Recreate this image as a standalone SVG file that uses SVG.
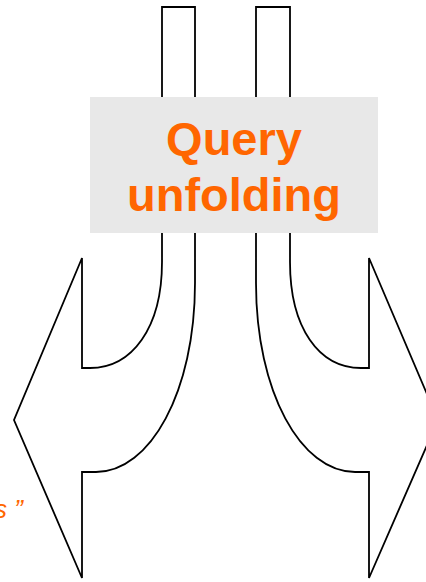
<svg xmlns="http://www.w3.org/2000/svg" width="426" height="582" viewBox="0 0 426 582">
<style>
.arrow{fill:#fff;stroke:#000;stroke-width:1.8;stroke-linejoin:miter}
.lbl{font-family:"Liberation Sans",Arial,sans-serif;fill:#FF6600}
</style>
<rect width="426" height="582" fill="#fff"/>
<g id="connectors">
<path id="arrow-left" class="arrow" d="M162,7 H195 V283 C195,392 150,472 96,472 H82 V578 L14,420 L82,258 V368 H90 C132,368 162,328 162,262 Z"/>
<path id="arrow-right" class="arrow" d="M290,7 H256 V283 C256,392 301,472 355,472 H369 V578 L438,420 L369,258 V368 H361 C319,368 290,328 290,262 Z"/>
</g>
<g id="node-query">
<rect x="90" y="97" width="288" height="136" fill="#E8E8E8"/>
<text class="lbl" x="234" y="155" font-size="47" font-weight="bold" text-anchor="middle">Query</text>
<text class="lbl" x="234" y="211" font-size="47" font-weight="bold" text-anchor="middle">unfolding</text>
</g>
<g id="node-cut">
<text class="lbl" x="-6" y="518" font-size="26" font-style="italic">s ”</text>
</g>
</svg>
